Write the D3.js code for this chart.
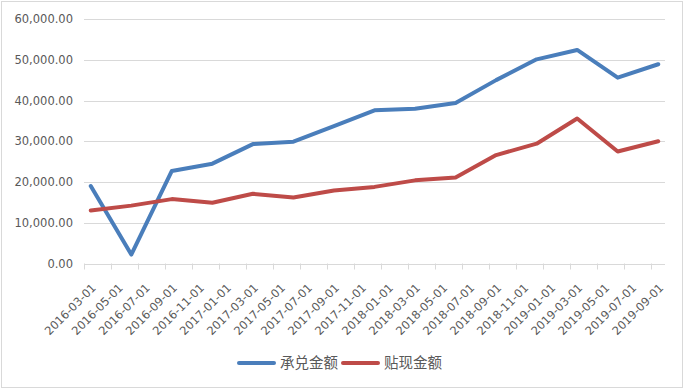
<!DOCTYPE html>
<html>
<head>
<meta charset="utf-8">
<script src="https://cdn.jsdelivr.net/npm/d3@7"></script>
<style>
  body { margin: 0; background: #fff; }
  svg { display: block; }
</style>
</head>
<body>
<div id="chart"></div>
<script>
// quarterly data points (month start dates)
const dates = [
  '2016-03-01', '2016-06-01', '2016-09-01', '2016-12-01',
  '2017-03-01', '2017-06-01', '2017-09-01', '2017-12-01',
  '2018-03-01', '2018-06-01', '2018-09-01', '2018-12-01',
  '2019-03-01', '2019-06-01', '2019-09-01'
];
const acceptValues = [19000, 2200, 22700, 24500, 29300, 29900, 33700, 37600,
  38000, 39400, 45000, 50100, 52400, 45600, 48900];
const discountValues = [13000, 14200, 15800, 14900, 17100, 16200, 17900, 18800,
  20400, 21100, 26600, 29400, 35600, 27500, 30000];
const seriesNames = ['承兑金额', '贴现金额'];
const seriesColors = ['#4a7ebb', '#be4b48'];

// x tick labels, every two months
const tickLabels = [
  '2016-03-01', '2016-05-01', '2016-07-01', '2016-09-01', '2016-11-01',
  '2017-01-01', '2017-03-01', '2017-05-01', '2017-07-01', '2017-09-01', '2017-11-01',
  '2018-01-01', '2018-03-01', '2018-05-01', '2018-07-01', '2018-09-01', '2018-11-01',
  '2019-01-01', '2019-03-01', '2019-05-01', '2019-07-01', '2019-09-01'
];
const yTicks = [0, 10000, 20000, 30000, 40000, 50000, 60000];

const width = 684;
const height = 390;
const plot = { left: 84, right: 665, top: 19, bottom: 263.5 };

const fmtKey = d3.timeFormat('%Y-%m-%d');
const parse = d3.timeParse('%Y-%m-%d');

// date axis with a month base unit: one band per month
const months = d3.timeMonth.range(parse(tickLabels[0]), d3.timeMonth.offset(parse(tickLabels[tickLabels.length - 1]), 1))
  .map(fmtKey);

const x = d3.scaleBand()
  .domain(months)
  .range([plot.left, plot.right]);

const y = d3.scaleLinear()
  .domain([0, 60000])
  .range([plot.bottom, plot.top]);

const svg = d3.select('#chart')
  .append('svg')
  .attr('width', width)
  .attr('height', height);

// outer border
svg.append('rect')
  .attr('x', 1.5).attr('y', 1.5)
  .attr('width', width - 3).attr('height', height - 4)
  .attr('fill', '#fff')
  .attr('stroke', '#d9d9d9');

// gridlines
svg.append('g')
  .selectAll('line')
  .data(yTicks.slice(1))
  .enter()
  .append('line')
  .attr('x1', plot.left).attr('x2', plot.right)
  .attr('y1', d => Math.round(y(d)) + 0.5)
  .attr('y2', d => Math.round(y(d)) + 0.5)
  .attr('stroke', '#d9d9d9');

// y labels
const yFmt = d3.format(',.2f');
svg.append('g')
  .selectAll('text')
  .data(yTicks)
  .enter()
  .append('text')
  .attr('x', 73)
  .attr('y', d => y(d))
  .attr('dy', '0.35em')
  .attr('text-anchor', 'end')
  .attr('fill', '#595959')
  .style('font', '11.5px "DejaVu Sans"')
  .text(d => yFmt(d));

// x axis line and ticks
const xAxis = svg.append('g');
xAxis.append('line')
  .attr('x1', plot.left).attr('x2', plot.right)
  .attr('y1', Math.round(plot.bottom) + 0.5).attr('y2', Math.round(plot.bottom) + 0.5)
  .attr('stroke', '#d9d9d9');
xAxis.selectAll('.tick')
  .data(tickLabels)
  .enter()
  .append('line')
  .attr('class', 'tick')
  .attr('x1', d => Math.round(x(d)) + 0.5)
  .attr('x2', d => Math.round(x(d)) + 0.5)
  .attr('y1', plot.bottom)
  .attr('y2', plot.bottom + 6)
  .attr('stroke', '#d9d9d9');

xAxis.selectAll('.xlabel')
  .data(tickLabels)
  .enter()
  .append('text')
  .attr('class', 'xlabel')
  .attr('transform', d => `translate(${x(d) + x.bandwidth() / 2 + 6},${plot.bottom + 25}) rotate(-45)`)
  .attr('text-anchor', 'end')
  .attr('fill', '#595959')
  .style('font', '11.5px "DejaVu Sans"')
  .text(d => d);

// lines
const line = d3.line()
  .x(d => x(d.date) + x.bandwidth() / 2)
  .y(d => y(d.value));

[acceptValues, discountValues].forEach((vals, i) => {
  const pts = dates.map((d, j) => ({ date: d, value: vals[j] }));
  svg.append('path')
    .datum(pts)
    .attr('d', line)
    .attr('fill', 'none')
    .attr('stroke', seriesColors[i])
    .attr('stroke-width', 4)
    .attr('stroke-linejoin', 'round')
    .attr('stroke-linecap', 'round');
});

// legend
const legendItems = [{ x: 239 }, { x: 343 }];
const legend = svg.append('g');
legendItems.forEach((it, i) => {
  legend.append('line')
    .attr('x1', it.x).attr('x2', it.x + 35)
    .attr('y1', 363).attr('y2', 363)
    .attr('stroke', seriesColors[i])
    .attr('stroke-width', 4)
    .attr('stroke-linecap', 'round');
  legend.append('text')
    .attr('x', it.x + 41)
    .attr('y', 363)
    .attr('dy', '0.35em')
    .attr('fill', '#595959')
    .style('font', '14.5px "Noto Sans CJK SC"')
    .text(seriesNames[i]);
});
</script>
</body>
</html>
